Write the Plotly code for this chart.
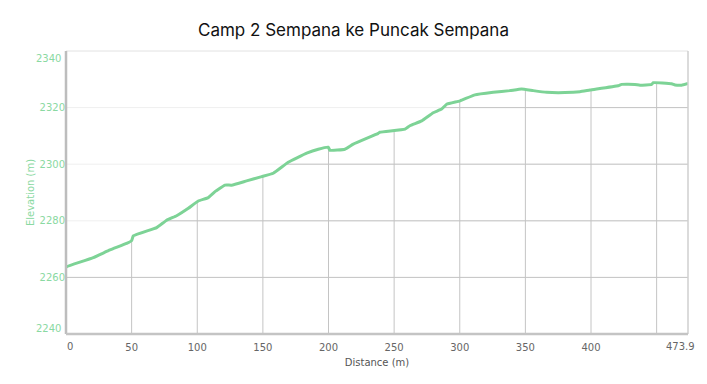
import numpy as np
import plotly.graph_objects as go

distance = [0, 0.5, 20.8, 33.5, 46.2, 50.0, 51.3, 69.1, 76.7, 84.3, 93.2, 100.8, 108.4,
            113.5, 121.1, 126.2, 137.6, 149.1, 157.9, 169.3, 183.4, 192.2, 199.8, 201.1,
            212.5, 218.9, 237.9, 239.2, 258.3, 262.0, 271.0, 279.8, 286.2, 290.0, 300.2,
            311.6, 325.5, 338.2, 347.1, 356.0, 366.2, 380.1, 391.6, 399.2, 420.7, 423.3,
            433.4, 437.3, 446.2, 447.4, 461.4, 464.0, 469.0, 473.9]
elevation = [2263.6, 2263.8, 2267.0, 2269.7, 2272.0, 2273.0, 2274.7, 2277.6, 2280.2, 2281.8,
             2284.4, 2287.0, 2288.2, 2290.3, 2292.6, 2292.6, 2294.1, 2295.6, 2296.8, 2300.7,
             2303.9, 2305.3, 2306.0, 2304.9, 2305.3, 2307.1, 2310.9, 2311.3, 2312.4, 2313.6,
             2315.3, 2318.2, 2319.5, 2321.2, 2322.4, 2324.5, 2325.4, 2326.0, 2326.6, 2326.0,
             2325.4, 2325.3, 2325.6, 2326.2, 2327.7, 2328.2, 2328.2, 2327.9, 2328.2, 2328.8,
             2328.4, 2328.0, 2327.9, 2328.5]

x_ticks = [50, 100, 150, 200, 250, 300, 350, 400]
x_grid = [50, 100, 150, 200, 250, 300, 350, 400, 450]
y_ticks = [2260, 2280, 2300, 2320]
y_grid = [2260, 2280, 2300, 2320]
x_min, x_max = 0, 473.9
y_min, y_max = 2240, 2340

green = "#7dd396"
label_green = "#8ad9a2"
grid_dark = "#c4c4c4"
grid_light = "#efefef"

d = np.array(distance)
e = np.array(elevation)

fig = go.Figure()

# light horizontal grid (whole width)
lx, ly = [], []
for g in y_grid:
    lx += [x_min, x_max, None]
    ly += [g, g, None]
fig.add_trace(go.Scatter(x=lx, y=ly, mode="lines", line=dict(color=grid_light, width=1),
                         hoverinfo="skip", showlegend=False))

# darker grid below the profile
gx, gy = [], []
for v in x_grid:
    gx += [v, v, None]
    gy += [y_min, float(np.interp(v, d, e)), None]
for g in y_grid:
    idx = np.where(e >= g)[0]
    if len(idx) == 0:
        continue
    i = idx[0]
    if i == 0:
        xs = d[0]
    else:
        xs = float(np.interp(g, [e[i - 1], e[i]], [d[i - 1], d[i]]))
    gx += [xs, x_max, None]
    gy += [g, g, None]
fig.add_trace(go.Scatter(x=gx, y=gy, mode="lines", line=dict(color=grid_dark, width=1),
                         hoverinfo="skip", showlegend=False))

fig.add_trace(go.Scatter(x=distance, y=elevation, mode="lines",
                         line=dict(color=green, width=3, shape="spline", smoothing=0.3),
                         showlegend=False, name="Elevation"))

fig.update_layout(
    width=707, height=384,
    margin=dict(l=66, r=19, t=51, b=50),
    paper_bgcolor="white", plot_bgcolor="white",
    title=dict(text="Camp 2 Sempana ke Puncak Sempana", x=0.5, xanchor="center",
               y=1 - 30 / 384, yanchor="middle",
               font=dict(family="Inter, Liberation Sans, sans-serif", size=17, color="#111")),
    xaxis=dict(range=[x_min, x_max], tickvals=x_ticks, ticktext=[str(v) for v in x_ticks],
               showgrid=False, zeroline=False, showline=False,
               tickfont=dict(family="DejaVu Sans", size=10, color="#666"),
               ticks="outside", ticklen=4, tickcolor="rgba(0,0,0,0)",
               title=dict(text="Distance (m)", standoff=6,
                          font=dict(family="DejaVu Sans", size=10, color="#555"))),
    yaxis=dict(range=[y_min, y_max], tickvals=y_ticks, ticktext=[str(v) for v in y_ticks],
               showgrid=False, zeroline=False, showline=False,
               tickfont=dict(family="DejaVu Sans", size=10, color=label_green),
               ticks="", ticklen=0,
               title=dict(text="Elevation (m)", standoff=3,
                          font=dict(family="DejaVu Sans", size=10, color=label_green))),
)

# frame lines
fig.add_shape(type="line", xref="paper", yref="paper", x0=0, x1=1, y0=1, y1=1,
              line=dict(color="#e2e2e2", width=1))
fig.add_shape(type="line", xref="paper", yref="paper", x0=1, x1=1, y0=0, y1=1,
              line=dict(color="#cfcfcf", width=1.5))
fig.add_shape(type="line", xref="paper", yref="paper", x0=0, x1=0, y0=0, y1=1,
              line=dict(color="#bdbdbd", width=2.5))
fig.add_shape(type="line", xref="paper", yref="paper", x0=0, x1=1, y0=0, y1=0,
              line=dict(color="#c4c4c4", width=2.5))

# edge labels (clamped inside like the original)
fig.add_annotation(x=x_min, y=y_min, xref="x", yref="y", text="0", showarrow=False,
                   xanchor="center", yanchor="top", xshift=4, yshift=-5,
                   font=dict(family="DejaVu Sans", size=10, color="#666"))
fig.add_annotation(x=x_max, y=y_min, xref="x", yref="y", text=str(x_max), showarrow=False,
                   xanchor="center", yanchor="top", xshift=-8, yshift=-5,
                   font=dict(family="DejaVu Sans", size=10, color="#666"))
fig.add_annotation(x=x_min, y=y_max, xref="x", yref="y", text=str(y_max), showarrow=False,
                   xanchor="right", yanchor="middle", xshift=-3, yshift=-7,
                   font=dict(family="DejaVu Sans", size=10, color=label_green))
fig.add_annotation(x=x_min, y=y_min, xref="x", yref="y", text=str(y_min), showarrow=False,
                   xanchor="right", yanchor="middle", xshift=-3, yshift=6,
                   font=dict(family="DejaVu Sans", size=10, color=label_green))

fig.write_html("out.html")
